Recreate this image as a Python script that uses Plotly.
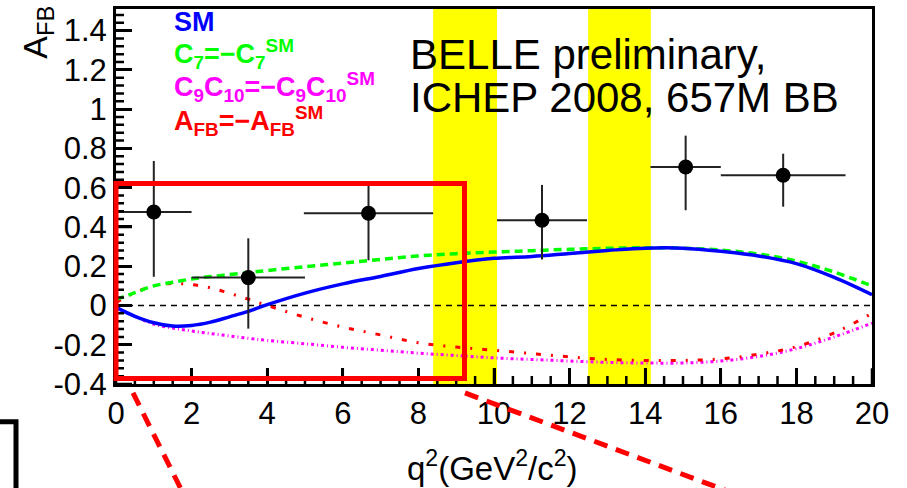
import plotly.graph_objects as go

# ---------------- data ----------------
q2_curve = [0, 0.5, 1, 1.5, 2, 2.5, 3, 3.5, 4, 5, 6, 7, 8, 9, 10, 11, 12, 13, 14, 15, 16, 17, 18, 19, 20]
afb_sm = [-0.01, -0.055, -0.088, -0.105, -0.102, -0.085, -0.058, -0.03, 0.004, 0.063, 0.11, 0.148,
          0.188, 0.218, 0.24, 0.25, 0.265, 0.28, 0.292, 0.292, 0.276, 0.252, 0.213, 0.143, 0.055]
afb_c7 = [0.03, 0.065, 0.1, 0.118, 0.135, 0.147, 0.157, 0.167, 0.178, 0.197, 0.216, 0.235,
          0.252, 0.264, 0.272, 0.279, 0.286, 0.291, 0.294, 0.292, 0.282, 0.262, 0.226, 0.17, 0.1]
afb_c9c10 = [-0.01, -0.055, -0.095, -0.115, -0.13, -0.143, -0.155, -0.167, -0.178, -0.195, -0.213, -0.228,
             -0.243, -0.255, -0.267, -0.275, -0.283, -0.29, -0.293, -0.293, -0.283, -0.26, -0.22, -0.16, -0.09]
afb_flip = [0.015, 0.065, 0.1, 0.112, 0.106, 0.09, 0.062, 0.032, 0.0, -0.06, -0.11, -0.15,
            -0.19, -0.212, -0.228, -0.245, -0.262, -0.275, -0.28, -0.28, -0.272, -0.248, -0.21, -0.14, -0.04]

q2_bin_center = [1.0, 3.5, 6.68, 11.27, 15.07, 17.65]
q2_bin_halfwidth = [1.0, 1.5, 1.71, 1.19, 0.93, 1.65]
afb_data = [0.476, 0.142, 0.47, 0.434, 0.705, 0.663]
afb_err_up = [0.26, 0.20, 0.15, 0.18, 0.16, 0.11]
afb_err_down = [0.33, 0.26, 0.24, 0.20, 0.22, 0.16]

veto_bands = [(8.39, 10.08), (12.49, 14.15)]

x_range = [0, 20]
y_range = [-0.4, 1.51]
y_tick_vals = [-0.4, -0.2, 0, 0.2, 0.4, 0.6, 0.8, 1, 1.2, 1.4]
y_tick_text = ["-0.4", "-0.2", "0", "0.2", "0.4", "0.6", "0.8", "1", "1.2", "1.4"]
x_tick_vals = [0, 2, 4, 6, 8, 10, 12, 14, 16, 18, 20]
x_tick_text = ["0", "2", "4", "6", "8", "10", "12", "14", "16", "18", "20"]
x_minor_step = 0.5
y_minor_step = 0.04

# ---------------- layout geometry (pixels) ----------------
W, H = 907, 488
ML, MR, MT, MB = 116, 35, 6, 104
PW, PH = W - ML - MR, H - MT - MB


def px(xp):
    return (xp - ML) / PW


def py(yp):
    return (H - MB - yp) / PH


FONT = "Liberation Sans, Arial, Helvetica, sans-serif"

fig = go.Figure()

# zero reference line
fig.add_trace(go.Scatter(x=x_range, y=[0, 0], mode="lines",
                         line=dict(color="black", width=1.5, dash="6px,5px"),
                         hoverinfo="skip", showlegend=False))

fig.add_trace(go.Scatter(x=q2_curve, y=afb_c9c10, mode="lines", line_shape="spline",
                         line=dict(color="#ff00ff", width=3, dash="3px,3px,1px,3px"),
                         showlegend=False))
fig.add_trace(go.Scatter(x=q2_curve, y=afb_flip, mode="lines", line_shape="spline",
                         line=dict(color="#ff0000", width=3, dash="5px,10px,2px,10px"),
                         showlegend=False))
fig.add_trace(go.Scatter(x=q2_curve, y=afb_c7, mode="lines", line_shape="spline",
                         line=dict(color="#00ff00", width=3.5, dash="8px,5px"),
                         showlegend=False))
fig.add_trace(go.Scatter(x=q2_curve, y=afb_sm, mode="lines", line_shape="spline",
                         line=dict(color="#0000ff", width=3.5),
                         showlegend=False))

# data points
fig.add_trace(go.Scatter(
    x=q2_bin_center, y=afb_data, mode="markers",
    marker=dict(color="black", size=15),
    error_x=dict(type="data", array=q2_bin_halfwidth, color="#222222", thickness=2, width=0),
    error_y=dict(type="data", symmetric=False, array=afb_err_up, arrayminus=afb_err_down,
                 color="#222222", thickness=2, width=0),
    showlegend=False))

shapes = []
for (a, b) in veto_bands:
    shapes.append(dict(type="rect", xref="x", yref="paper", x0=a, x1=b, y0=0, y1=1,
                       fillcolor="#ffff00", line=dict(width=0), layer="below"))

# axis tick marks (ROOT style, pointing inwards), drawn as one path per axis
MAJ, MIN = 16, 8
xt_parts = []
n_xminor = int(round((x_range[1] - x_range[0]) / x_minor_step))
for i in range(n_xminor + 1):
    v = x_range[0] + i * x_minor_step
    major = any(abs(v - t) < 1e-9 for t in x_tick_vals)
    L = MAJ if major else MIN
    xf = (v - x_range[0]) / (x_range[1] - x_range[0])
    xt_parts.append(f"M{xf:.5f},0 L{xf:.5f},{L / PH:.5f}")
shapes.append(dict(type="path", xref="paper", yref="paper", path=" ".join(xt_parts),
                   line=dict(color="black", width=2.5), layer="above"))

yt_parts = []
n_yminor = int((y_range[1] - y_range[0]) / y_minor_step + 1e-6)
for i in range(n_yminor + 1):
    v = round(y_range[0] + i * y_minor_step, 6)
    major = any(abs(v - t) < 1e-9 for t in y_tick_vals)
    L = MAJ if major else MIN
    yf = (v - y_range[0]) / (y_range[1] - y_range[0])
    yt_parts.append(f"M0,{yf:.5f} L{L / PW:.5f},{yf:.5f}")
shapes.append(dict(type="path", xref="paper", yref="paper", path=" ".join(yt_parts),
                   line=dict(color="black", width=2.5), layer="above"))

# red highlight box and zoom lines
RED = "#ff0000"
shapes.append(dict(type="rect", xref="paper", yref="paper",
                   x0=px(116), x1=px(464.5), y0=py(378.5), y1=py(182),
                   line=dict(color=RED, width=5), fillcolor="rgba(0,0,0,0)", layer="above"))
shapes.append(dict(type="line", xref="paper", yref="paper",
                   x0=px(133), y0=py(393), x1=px(183), y1=py(494),
                   line=dict(color=RED, width=5, dash="14px,9px")))
shapes.append(dict(type="line", xref="paper", yref="paper",
                   x0=px(465), y0=py(393), x1=px(725), y1=py(491),
                   line=dict(color=RED, width=5, dash="14px,9px")))
# black bracket at bottom left
shapes.append(dict(type="path", xref="paper", yref="paper",
                   path=f"M {px(-5)},{py(422)} L {px(16)},{py(422)} L {px(16)},{py(495)}",
                   line=dict(color="black", width=5)))

annotations = []
# legend texts
leg = [
    ("<b>SM</b>", "#0000ff", 19),
    ("<b>C<sub>7</sub>=−C<sub>7</sub><sup>SM</sup></b>", "#00ff00", 51),
    ("<b>C<sub>9</sub>C<sub>10</sub>=−C<sub>9</sub>C<sub>10</sub><sup>SM</sup></b>", "#ff00ff", 85),
    ("<b>A<sub>FB</sub>=−A<sub>FB</sub><sup>SM</sup></b>", "#ff0000", 119),
]
for txt, col, yc in leg:
    annotations.append(dict(text=txt, xref="paper", yref="paper", x=px(172), y=py(yc),
                            xanchor="left", yanchor="middle", showarrow=False,
                            font=dict(family=FONT, size=27, color=col)))

# experiment label
annotations.append(dict(text="BELLE preliminary,", xref="paper", yref="paper",
                        x=px(408), y=py(52), xanchor="left", yanchor="middle", showarrow=False,
                        font=dict(family=FONT, size=42, color="black")))
annotations.append(dict(text="ICHEP 2008, 657M BB", xref="paper", yref="paper",
                        x=px(408), y=py(95), xanchor="left", yanchor="middle", showarrow=False,
                        font=dict(family=FONT, size=42, color="black")))

# axis titles
annotations.append(dict(text="q<sup>2</sup>(GeV<sup>2</sup>/c<sup>2</sup>)", xref="paper", yref="paper",
                        x=px(492), y=py(467), xanchor="center", yanchor="middle", showarrow=False,
                        font=dict(family=FONT, size=33, color="black")))
annotations.append(dict(text="A<sub>FB</sub>", xref="paper", yref="paper", textangle=-90,
                        x=px(38), y=py(30), xanchor="center", yanchor="middle", showarrow=False,
                        font=dict(family=FONT, size=34, color="black")))

fig.update_layout(
    width=W, height=H,
    margin=dict(l=ML, r=MR, t=MT, b=MB, pad=0),
    paper_bgcolor="white", plot_bgcolor="white",
    shapes=shapes, annotations=annotations,
    font=dict(family=FONT, size=30, color="black"),
    showlegend=False,
)
fig.update_xaxes(range=x_range, tickmode="array", tickvals=x_tick_vals, ticktext=x_tick_text,
                 ticks="inside", ticklen=MAJ, tickwidth=2.5, tickcolor="black",
                 showline=True, linewidth=3, linecolor="black", mirror=True,
                 showgrid=False, zeroline=False,
                 tickfont=dict(family=FONT, size=31, color="black"))
fig.update_yaxes(range=y_range, tickmode="array", tickvals=y_tick_vals, ticktext=y_tick_text,
                 ticks="inside", ticklen=MAJ, tickwidth=2.5, tickcolor="black",
                 showline=True, linewidth=3, linecolor="black", mirror=True,
                 showgrid=False, zeroline=False,
                 tickfont=dict(family=FONT, size=31, color="black"))

fig.write_html("out.html")
